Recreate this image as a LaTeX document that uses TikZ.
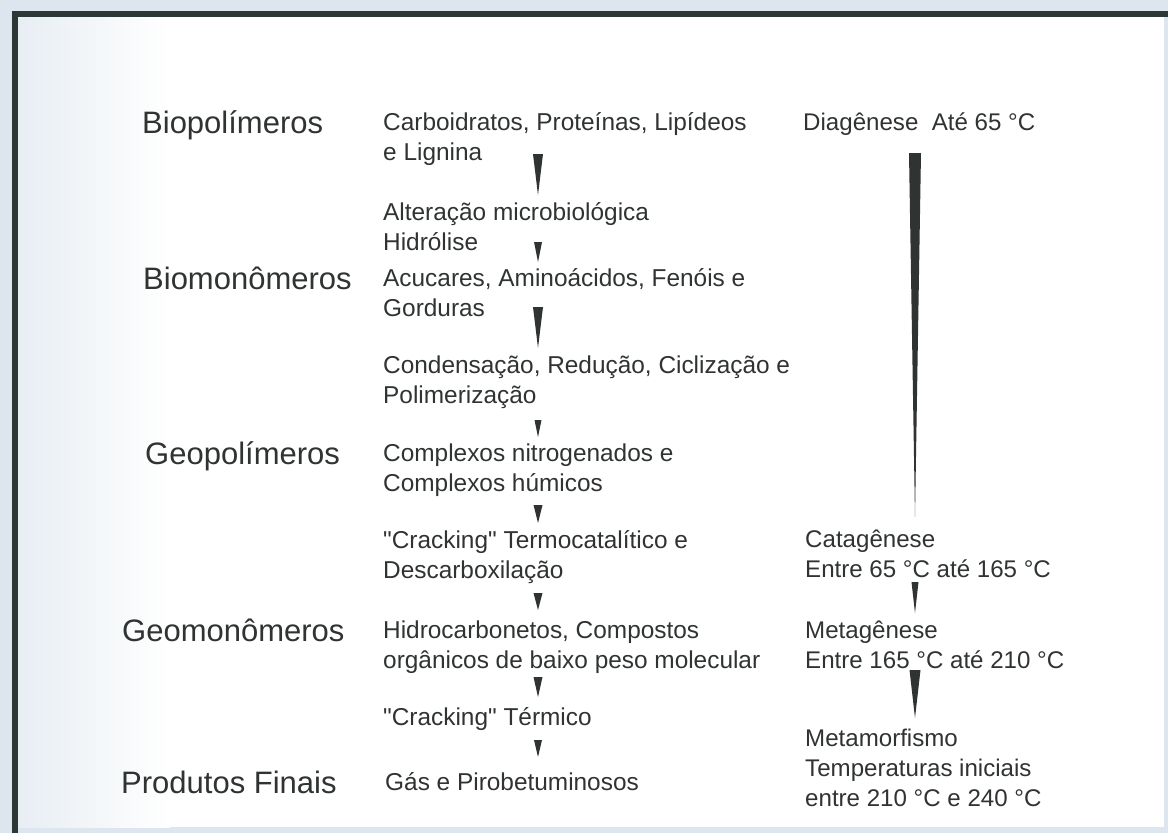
\documentclass[tikz,border=0pt]{standalone}
\usepackage{fontspec}
\setmainfont{Liberation Sans}

\definecolor{ink}{HTML}{2F3332}
\definecolor{frame}{HTML}{2C3835}
\definecolor{scan}{HTML}{DDE6EE}

\tikzset{
  wedge/.style={fill=ink,to path={([xshift=-#1]\tikztostart) -- ([xshift=#1]\tikztostart) -- (\tikztotarget) -- cycle}}
}

\begin{document}
\begin{tikzpicture}[x=1pt,y=-1pt]

      \useasboundingbox (0,0) rectangle (1168,833);
      \fill[scan] (0,0) rectangle (1168,833);
      \fill[white] (15,13) rectangle (1164,827);
      \shade[left color=scan!70,right color=white] (17,16) rectangle (170,827);
      \draw[frame,line width=6pt] (15,833) -- (15,13.5) -- (1168,13.5);

      % stages
      \begin{scope}[every node/.style={anchor=base west,inner sep=0,text=ink,font=\fontsize{31}{36}\selectfont}]
        \node (biopol) at (142,133) {Biopolímeros};
        \node (biomon) at (143,289) {Biomonômeros};
        \node (geopol) at (145,464) {Geopolímeros};
        \node (geomon) at (122,641) {Geomonômeros};
        \node (finais) at (121,793) {Produtos Finais};
      \end{scope}

      % compounds and processes (base = last line)
      \begin{scope}[every node/.style={anchor=base west,inner sep=0,align=left,text=ink,font=\fontsize{24.4}{30}\selectfont}]
        \node (carb)  at (383,160) {Carboidratos, Proteínas, Lipídeos\\e Lignina};
        \node (alter) at (383,250) {Alteração microbiológica\\Hidrólise};
        \node (acuc)  at (383,316) {Acucares, Aminoácidos, Fenóis e\\Gorduras};
        \node (cond)  at (383,403) {Condensação, Redução, Ciclização e\\Polimerização};
        \node (compl) at (383,491) {Complexos nitrogenados e\\Complexos húmicos};
        \node (crack) at (383,578) {\textquotedbl Cracking\textquotedbl\ Termocatalítico e\\Descarboxilação};
        \node (hidro) at (383,668) {Hidrocarbonetos, Compostos\\orgânicos de baixo peso molecular};
        \node (term)  at (383,725) {\textquotedbl Cracking\textquotedbl\ Térmico};
        \node (gas)   at (385,790) {Gás e Pirobetuminosos};
      \end{scope}

      % thermal stages
      \begin{scope}[every node/.style={anchor=base west,inner sep=0,align=left,text=ink,font=\fontsize{24.1}{30}\selectfont}]
        \node (diag)  at (803,130) {Diagênese\ \ Até 65 °C};
        \node (cata)  at (805,577) {Catagênese\\Entre 65 °C até 165 °C};
        \node (meta)  at (805,668) {Metagênese\\Entre 165 °C até 210 °C};
        \node (metam) at (805,806) {Metamorfismo\\Temperaturas iniciais\\entre 210 °C e 240 °C};
      \end{scope}

      \foreach \n/\ya/\yb in {1/154/195, 2/242/262, 3/307/348, 4/420/437,
                              5/505/523, 6/593/610, 7/677/697, 8/740/757} {
        \coordinate (m\n a) at (538,\ya);
        \coordinate (m\n b) at (538,\yb);
      }
      \coordinate (r1a) at (915,153);
      \coordinate (r1b) at (915,517);
      \coordinate (r2a) at (915,582);
      \coordinate (r2b) at (915,613);
      \coordinate (r3a) at (915,670);
      \coordinate (r3b) at (915,718);

      \path[wedge=5pt]   (m1a) to (m1b);
      \path[wedge=4pt]   (m2a) to (m2b);
      \path[wedge=5pt]   (m3a) to (m3b);
      \path[wedge=3.5pt] (m4a) to (m4b);
      \path[wedge=4.5pt] (m5a) to (m5b);
      \path[wedge=4.5pt] (m6a) to (m6b);
      \path[wedge=4.5pt] (m7a) to (m7b);
      \path[wedge=4pt]   (m8a) to (m8b);

      \path[wedge=6pt]   (r1a) to (r1b);
      \path[wedge=3.5pt] (r2a) to (r2b);
      \path[wedge=5.5pt] (r3a) to (r3b);

\end{tikzpicture}
\end{document}
